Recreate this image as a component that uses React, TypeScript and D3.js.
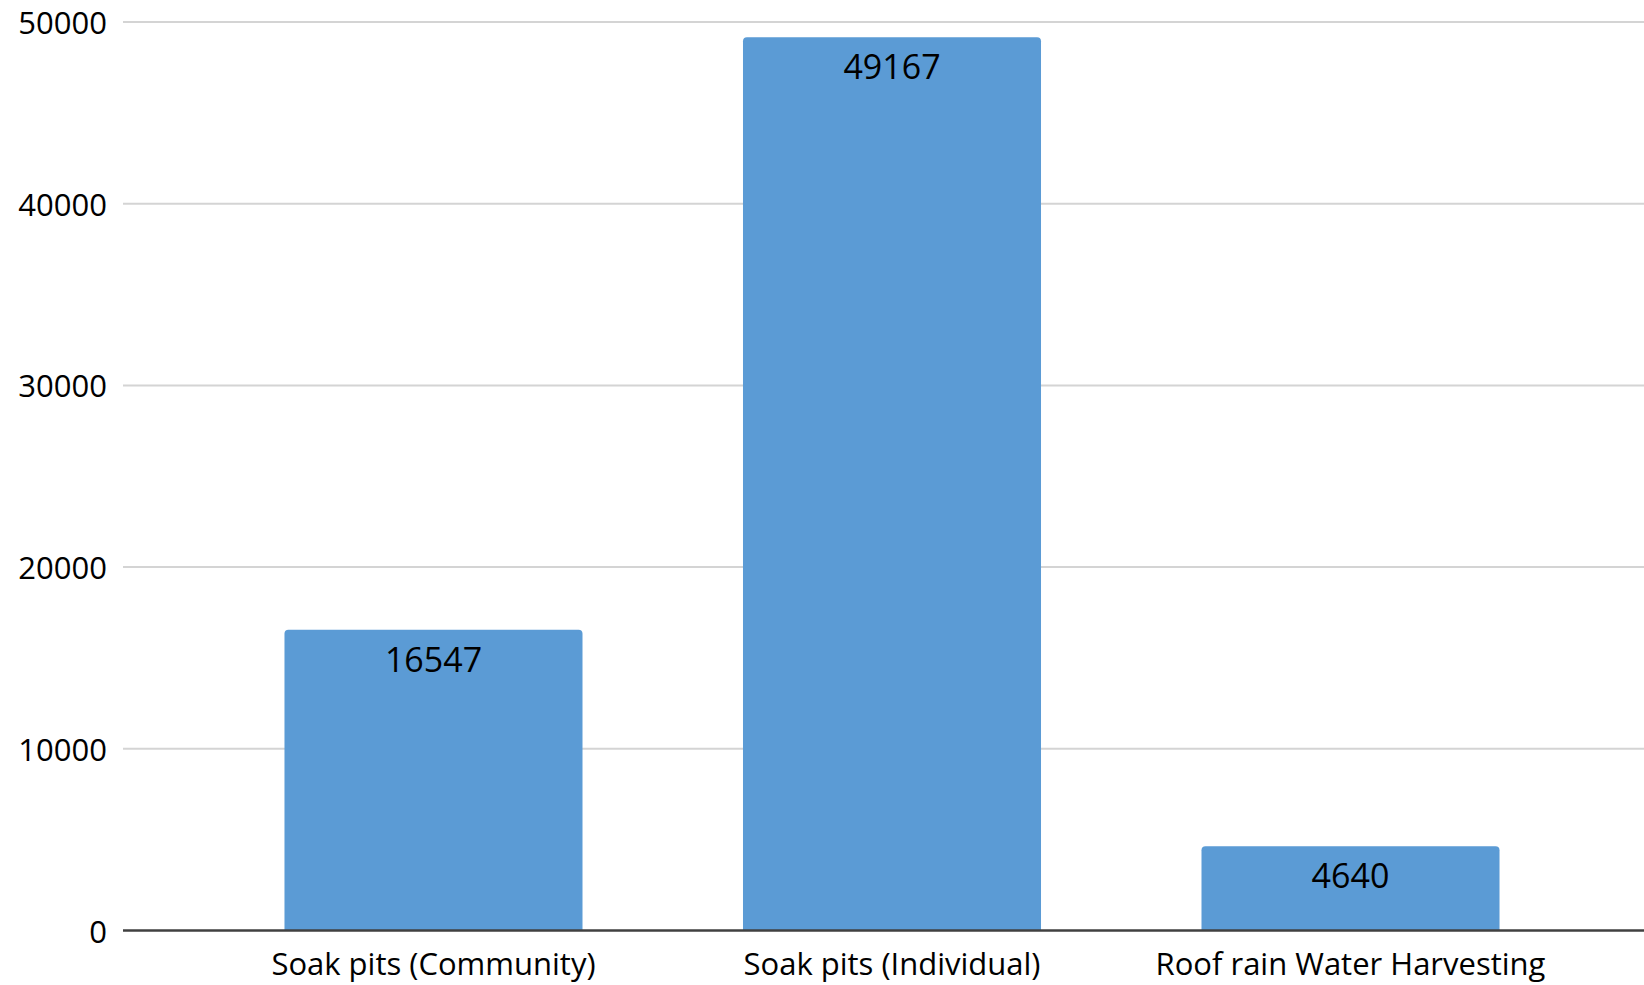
import { useEffect } from 'react'
import * as d3 from 'd3'

const categories = ['Soak pits (Community)', 'Soak pits (Individual)', 'Roof rain Water Harvesting']
const values = [16547, 49167, 4640]
const yTicks = [0, 10000, 20000, 30000, 40000, 50000]

const width = 1644
const height = 985
const font = '"Open Sans", sans-serif'

export default function App() {
  useEffect(() => {
    document.body.style.margin = '0'
  }, [])

  const x = d3.scaleBand<string>()
    .domain(categories)
    .range([124, 1660])
    .padding(0.35)

  const y = d3.scaleLinear()
    .domain([0, 50000])
    .range([930.5, 22])

  // bar with slightly rounded top corners
  const barPath = (x0: number, w: number, top: number, bottom: number) => {
    const r = 4
    const p = d3.path()
    p.moveTo(x0, bottom)
    p.lineTo(x0, top + r)
    p.quadraticCurveTo(x0, top, x0 + r, top)
    p.lineTo(x0 + w - r, top)
    p.quadraticCurveTo(x0 + w, top, x0 + w, top + r)
    p.lineTo(x0 + w, bottom)
    p.closePath()
    return p.toString()
  }

  return (
    <svg width={width} height={height} style={{ display: 'block', background: '#fff' }}>
      {/* gridlines */}
      {yTicks.filter(t => t > 0).map(t => (
        <line key={t} x1={123} x2={width} y1={y(t)} y2={y(t)} stroke="#d4d4d4" strokeWidth={2} />
      ))}
      {/* y tick labels */}
      {yTicks.map(t => (
        <text key={t} x={107} y={y(t)} textAnchor="end" dominantBaseline="central"
          fontFamily={font} fontSize={31} fill="#000">{t}</text>
      ))}
      {/* bars */}
      {categories.map((c, i) => (
        <path key={c} d={barPath(x(c)!, x.bandwidth(), y(values[i]), y(0))} fill="#5b9bd5" />
      ))}
      {/* value labels */}
      {categories.map((c, i) => (
        <text key={c} x={x(c)! + x.bandwidth() / 2} y={y(values[i]) + 42} textAnchor="middle"
          fontFamily={font} fontSize={34} fill="#000">{values[i]}</text>
      ))}
      {/* baseline */}
      <line x1={123} x2={width} y1={y(0)} y2={y(0)} stroke="#404040" strokeWidth={2.5} />
      {/* category labels */}
      {categories.map(c => (
        <text key={c} x={x(c)! + x.bandwidth() / 2} y={975} textAnchor="middle"
          fontFamily={font} fontSize={31} fill="#000">{c}</text>
      ))}
    </svg>
  )
}
